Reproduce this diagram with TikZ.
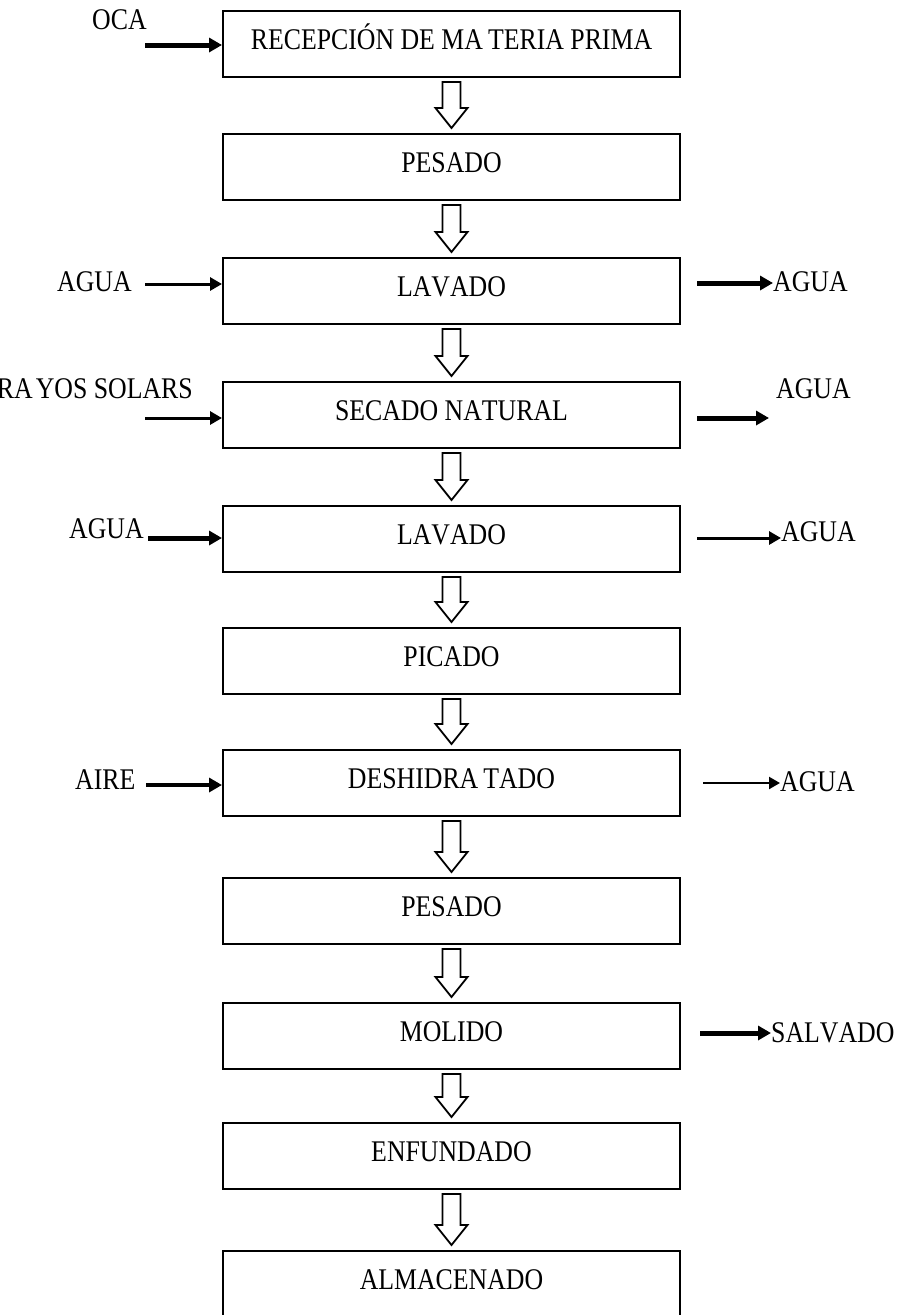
\documentclass[tikz,border=0pt]{standalone}
\usepackage{fontspec}
\setmainfont{Liberation Serif}[FakeStretch=0.86,Kerning=Off]
\usetikzlibrary{arrows.meta,calc}
\tikzset{
  procbox/.style={draw,line width=2pt,minimum width=457pt,minimum height=66pt,inner sep=0pt,
    text height=20pt,text depth=10pt,font=\fontsize{30}{36}\selectfont},
  sidelbl/.style={inner sep=0pt,font=\fontsize{30}{36}\selectfont},
  hollow/.style={draw,line width=1.8pt,fill=white,line join=miter},
  thickarr/.style={line width=5pt,-{Triangle[length=13pt,width=14pt]}},
  midarr/.style={line width=3pt,-{Triangle[length=12pt,width=13pt]}},
  thinarr/.style={line width=2.2pt,-{Triangle[length=11pt,width=12pt]}},
}
\newcommand\flowarrow[2]{%
  \draw[hollow] ($(#1.south)+(-9,-4)$) -- ($(#1.south)+(9,-4)$) -- ($(#2.north)+(9,25)$)
    -- ($(#2.north)+(16,25)$) -- ($(#2.north)+(0,5)$) -- ($(#2.north)+(-16,25)$)
    -- ($(#2.north)+(-9,25)$) -- cycle;}
\begin{document}
\begin{tikzpicture}[x=1pt,y=1pt]
\useasboundingbox (0,0) rectangle (899,-1315);
% process boxes
\node[procbox] (b1) at (451.5,-44) {RECEPCIÓN DE MA\kern5pt TERIA PRIMA};
\node[procbox] (b2) at (451.5,-167) {PESADO};
\node[procbox] (b3) at (451.5,-291) {LAVADO};
\node[procbox] (b4) at (451.5,-415) {SECADO NATURAL};
\node[procbox] (b5) at (451.5,-539) {LAVADO};
\node[procbox] (b6) at (451.5,-661) {PICADO};
\node[procbox] (b7) at (451.5,-783) {DESHIDRA\kern5pt TADO};
\node[procbox] (b8) at (451.5,-911) {PESADO};
\node[procbox] (b9) at (451.5,-1036) {MOLIDO};
\node[procbox] (b10) at (451.5,-1156) {ENFUNDADO};
\node[procbox] (b11) at (451.5,-1284) {ALMACENADO};
% hollow flow arrows
\flowarrow{b1}{b2}
\flowarrow{b2}{b3}
\flowarrow{b3}{b4}
\flowarrow{b4}{b5}
\flowarrow{b5}{b6}
\flowarrow{b6}{b7}
\flowarrow{b7}{b8}
\flowarrow{b8}{b9}
\flowarrow{b9}{b10}
\flowarrow{b10}{b11}
% side labels
\node[sidelbl,anchor=base west] (oca) at (92,-29) {OCA};
\node[sidelbl,anchor=base west] (l3) at (57,-291) {AGUA};
\node[sidelbl,anchor=base west] (r3) at (773,-291) {AGUA};
\node[sidelbl,anchor=base east] (l4) at (193,-398) {RA\kern3pt YOS SOLARS};
\node[sidelbl,anchor=base west] (r4) at (776,-398) {AGUA};
\node[sidelbl,anchor=base west] (l5) at (69,-538) {AGUA};
\node[sidelbl,anchor=base west] (r5) at (781,-541) {AGUA};
\node[sidelbl,anchor=base west] (l7) at (75,-789) {AIRE};
\node[sidelbl,anchor=base west] (r7) at (780,-791) {AGUA};
\node[sidelbl,anchor=base west] (r9) at (771,-1042) {SALVADO};
% free ends of side arrows
\coordinate (s1) at (145,-45);
\coordinate (s3l) at (145,-284);
\coordinate (s3r) at (697,-283);
\coordinate (s4l) at (145,-418);
\coordinate (s4r) at (697,-418);
\coordinate (s4e) at (769,-418);
\coordinate (s5l) at (148,-538);
\coordinate (s5r) at (697,-538);
\coordinate (s7l) at (146,-785);
\coordinate (s7r) at (703,-783);
\coordinate (s9r) at (700,-1033);
% side arrows
\draw[thickarr] (s1) -- (b1.west |- s1);
\draw[midarr] (s3l) -- (b3.west |- s3l);
\draw[thickarr] (s3r) -- (r3.west |- s3r);
\draw[midarr] (s4l) -- (b4.west |- s4l);
\draw[thickarr] (s4r) -- (s4e);
\draw[thickarr] (s5l) -- (b5.west |- s5l);
\draw[midarr] (s5r) -- (r5.west |- s5r);
\draw[thickarr,line width=4pt] (s7l) -- (b7.west |- s7l);
\draw[thinarr] (s7r) -- (r7.west |- s7r);
\draw[thickarr] (s9r) -- (r9.west |- s9r);
\end{tikzpicture}
\end{document}
